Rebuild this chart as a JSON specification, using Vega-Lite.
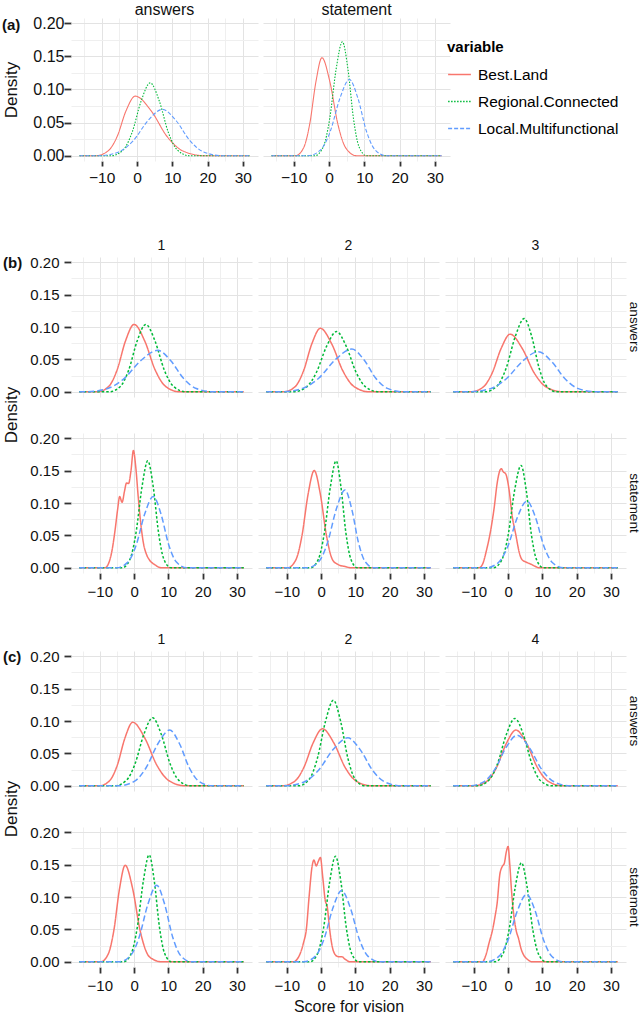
{
"$schema":"https://vega.github.io/schema/vega-lite/v6.json",
"padding":{"left":2,"top":2,"right":0,"bottom":0},
"background":"white",
"config":{"font":"Liberation Sans","view":{"stroke":null},"title":{"color":"#111"},
"header":{"labelColor":"#111","titleColor":"#111","labelFont":"Liberation Sans","titleFont":"Liberation Sans"},
"axis":{"labelFont":"Liberation Sans","titleFont":"Liberation Sans","labelColor":"#111","titleColor":"#111"}},
"datasets":{
"a":[
{"t":"answers","v":"B","x":-16.3,"y":0},{"t":"answers","v":"B","x":-11.6,"y":0},{"t":"answers","v":"B","x":-8.2,"y":0.0072},{"t":"answers","v":"B","x":-5.6,"y":0.0292},{"t":"answers","v":"B","x":-3.1,"y":0.0679},{"t":"answers","v":"B","x":-0.5,"y":0.09},{"t":"answers","v":"B","x":4,"y":0.0679},{"t":"answers","v":"B","x":8.5,"y":0.0292},{"t":"answers","v":"B","x":13,"y":0.0072},{"t":"answers","v":"B","x":19,"y":0},{"t":"answers","v":"B","x":31.9,"y":0},
{"t":"answers","v":"R","x":-16.3,"y":0},{"t":"answers","v":"R","x":-7.3,"y":0},{"t":"answers","v":"R","x":-3.9,"y":0.0088},{"t":"answers","v":"R","x":-1.35,"y":0.0357},{"t":"answers","v":"R","x":1.2,"y":0.083},{"t":"answers","v":"R","x":3.75,"y":0.11},{"t":"answers","v":"R","x":6.3,"y":0.083},{"t":"answers","v":"R","x":8.85,"y":0.0357},{"t":"answers","v":"R","x":11.4,"y":0.0088},{"t":"answers","v":"R","x":14.8,"y":0},{"t":"answers","v":"R","x":31.9,"y":0},
{"t":"answers","v":"L","x":-16.3,"y":0},{"t":"answers","v":"L","x":-10.7,"y":0},{"t":"answers","v":"L","x":-5.2,"y":0.0056},{"t":"answers","v":"L","x":-1.05,"y":0.0227},{"t":"answers","v":"L","x":3.1,"y":0.0528},{"t":"answers","v":"L","x":7.2,"y":0.07},{"t":"answers","v":"L","x":11.1,"y":0.0528},{"t":"answers","v":"L","x":15,"y":0.0227},{"t":"answers","v":"L","x":18.9,"y":0.0056},{"t":"answers","v":"L","x":24.1,"y":0},{"t":"answers","v":"L","x":31.9,"y":0},
{"t":"statement","v":"B","x":-16.3,"y":0},{"t":"statement","v":"B","x":-9.5,"y":0},{"t":"statement","v":"B","x":-7.2,"y":0.0118},{"t":"statement","v":"B","x":-5.45,"y":0.0481},{"t":"statement","v":"B","x":-3.7,"y":0.1117},{"t":"statement","v":"B","x":-2,"y":0.148},{"t":"statement","v":"B","x":0.25,"y":0.1117},{"t":"statement","v":"B","x":2.5,"y":0.0481},{"t":"statement","v":"B","x":4.75,"y":0.0118},{"t":"statement","v":"B","x":7.75,"y":0},{"t":"statement","v":"B","x":31.9,"y":0},
{"t":"statement","v":"R","x":-16.3,"y":0},{"t":"statement","v":"R","x":-4,"y":0},{"t":"statement","v":"R","x":-1.6,"y":0.0137},{"t":"statement","v":"R","x":0.2,"y":0.0558},{"t":"statement","v":"R","x":2,"y":0.1298},{"t":"statement","v":"R","x":3.8,"y":0.172},{"t":"statement","v":"R","x":5.4,"y":0.1298},{"t":"statement","v":"R","x":6.95,"y":0.0558},{"t":"statement","v":"R","x":8.5,"y":0.0137},{"t":"statement","v":"R","x":10.6,"y":0},{"t":"statement","v":"R","x":31.9,"y":0},
{"t":"statement","v":"L","x":-16.3,"y":0},{"t":"statement","v":"L","x":-5.9,"y":0},{"t":"statement","v":"L","x":-2.3,"y":0.0092},{"t":"statement","v":"L","x":0.4,"y":0.0373},{"t":"statement","v":"L","x":3.1,"y":0.0868},{"t":"statement","v":"L","x":5.8,"y":0.115},{"t":"statement","v":"L","x":8.2,"y":0.0868},{"t":"statement","v":"L","x":10.6,"y":0.0373},{"t":"statement","v":"L","x":13,"y":0.0092},{"t":"statement","v":"L","x":16.2,"y":0},{"t":"statement","v":"L","x":31.9,"y":0}
],
"b":[
{"t":"answers","c":"1","v":"B","x":-16,"y":0},{"t":"answers","c":"1","v":"B","x":-10.7,"y":0},{"t":"answers","c":"1","v":"B","x":-7.4,"y":0.0083},{"t":"answers","c":"1","v":"B","x":-4.95,"y":0.0338},{"t":"answers","c":"1","v":"B","x":-2.5,"y":0.0785},{"t":"answers","c":"1","v":"B","x":0,"y":0.104},{"t":"answers","c":"1","v":"B","x":3.1,"y":0.0785},{"t":"answers","c":"1","v":"B","x":6.15,"y":0.0338},{"t":"answers","c":"1","v":"B","x":9.2,"y":0.0083},{"t":"answers","c":"1","v":"B","x":13.3,"y":0},{"t":"answers","c":"1","v":"B","x":32,"y":0},
{"t":"answers","c":"1","v":"R","x":-16,"y":0},{"t":"answers","c":"1","v":"R","x":-7.3,"y":0},{"t":"answers","c":"1","v":"R","x":-4,"y":0.0083},{"t":"answers","c":"1","v":"R","x":-1.55,"y":0.0338},{"t":"answers","c":"1","v":"R","x":0.9,"y":0.0785},{"t":"answers","c":"1","v":"R","x":3.4,"y":0.104},{"t":"answers","c":"1","v":"R","x":6.1,"y":0.0785},{"t":"answers","c":"1","v":"R","x":8.8,"y":0.0338},{"t":"answers","c":"1","v":"R","x":11.5,"y":0.0083},{"t":"answers","c":"1","v":"R","x":15.1,"y":0},{"t":"answers","c":"1","v":"R","x":32,"y":0},
{"t":"answers","c":"1","v":"L","x":-16,"y":0},{"t":"answers","c":"1","v":"L","x":-14.2,"y":0},{"t":"answers","c":"1","v":"L","x":-7.7,"y":0.0051},{"t":"answers","c":"1","v":"L","x":-2.85,"y":0.0208},{"t":"answers","c":"1","v":"L","x":2,"y":0.0483},{"t":"answers","c":"1","v":"L","x":6.9,"y":0.064},{"t":"answers","c":"1","v":"L","x":10.65,"y":0.0483},{"t":"answers","c":"1","v":"L","x":14.4,"y":0.0208},{"t":"answers","c":"1","v":"L","x":18.15,"y":0.0051},{"t":"answers","c":"1","v":"L","x":23.15,"y":0},{"t":"answers","c":"1","v":"L","x":32,"y":0},
{"t":"answers","c":"2","v":"B","x":-16,"y":0},{"t":"answers","c":"2","v":"B","x":-10.9,"y":0},{"t":"answers","c":"2","v":"B","x":-7.6,"y":0.0078},{"t":"answers","c":"2","v":"B","x":-5.15,"y":0.0318},{"t":"answers","c":"2","v":"B","x":-2.7,"y":0.074},{"t":"answers","c":"2","v":"B","x":-0.2,"y":0.098},{"t":"answers","c":"2","v":"B","x":3.1,"y":0.074},{"t":"answers","c":"2","v":"B","x":6.4,"y":0.0318},{"t":"answers","c":"2","v":"B","x":9.7,"y":0.0078},{"t":"answers","c":"2","v":"B","x":14.1,"y":0},{"t":"answers","c":"2","v":"B","x":32,"y":0},
{"t":"answers","c":"2","v":"R","x":-16,"y":0},{"t":"answers","c":"2","v":"R","x":-8.2,"y":0},{"t":"answers","c":"2","v":"R","x":-4.3,"y":0.0074},{"t":"answers","c":"2","v":"R","x":-1.35,"y":0.0302},{"t":"answers","c":"2","v":"R","x":1.6,"y":0.0702},{"t":"answers","c":"2","v":"R","x":4.5,"y":0.093},{"t":"answers","c":"2","v":"R","x":7.35,"y":0.0702},{"t":"answers","c":"2","v":"R","x":10.2,"y":0.0302},{"t":"answers","c":"2","v":"R","x":13.05,"y":0.0074},{"t":"answers","c":"2","v":"R","x":16.85,"y":0},{"t":"answers","c":"2","v":"R","x":32,"y":0},
{"t":"answers","c":"2","v":"L","x":-16,"y":0},{"t":"answers","c":"2","v":"L","x":-11.8,"y":0},{"t":"answers","c":"2","v":"L","x":-5.4,"y":0.0053},{"t":"answers","c":"2","v":"L","x":-0.6,"y":0.0214},{"t":"answers","c":"2","v":"L","x":4.2,"y":0.0498},{"t":"answers","c":"2","v":"L","x":9,"y":0.066},{"t":"answers","c":"2","v":"L","x":12.45,"y":0.0498},{"t":"answers","c":"2","v":"L","x":15.9,"y":0.0214},{"t":"answers","c":"2","v":"L","x":19.35,"y":0.0053},{"t":"answers","c":"2","v":"L","x":23.95,"y":0},{"t":"answers","c":"2","v":"L","x":32,"y":0},
{"t":"answers","c":"3","v":"B","x":-16,"y":0},{"t":"answers","c":"3","v":"B","x":-10.8,"y":0},{"t":"answers","c":"3","v":"B","x":-7.3,"y":0.0071},{"t":"answers","c":"3","v":"B","x":-4.65,"y":0.0289},{"t":"answers","c":"3","v":"B","x":-2,"y":0.0672},{"t":"answers","c":"3","v":"B","x":0.6,"y":0.089},{"t":"answers","c":"3","v":"B","x":4.1,"y":0.0672},{"t":"answers","c":"3","v":"B","x":7.65,"y":0.0289},{"t":"answers","c":"3","v":"B","x":11.2,"y":0.0071},{"t":"answers","c":"3","v":"B","x":15.9,"y":0},{"t":"answers","c":"3","v":"B","x":32,"y":0},
{"t":"answers","c":"3","v":"R","x":-16,"y":0},{"t":"answers","c":"3","v":"R","x":-6.7,"y":0},{"t":"answers","c":"3","v":"R","x":-3.2,"y":0.009},{"t":"answers","c":"3","v":"R","x":-0.55,"y":0.0367},{"t":"answers","c":"3","v":"R","x":2.1,"y":0.0853},{"t":"answers","c":"3","v":"R","x":4.7,"y":0.113},{"t":"answers","c":"3","v":"R","x":6.9,"y":0.0853},{"t":"answers","c":"3","v":"R","x":9.05,"y":0.0367},{"t":"answers","c":"3","v":"R","x":11.2,"y":0.009},{"t":"answers","c":"3","v":"R","x":14.1,"y":0},{"t":"answers","c":"3","v":"R","x":32,"y":0},
{"t":"answers","c":"3","v":"L","x":-16,"y":0},{"t":"answers","c":"3","v":"L","x":-11.35,"y":0},{"t":"answers","c":"3","v":"L","x":-5.15,"y":0.0049},{"t":"answers","c":"3","v":"L","x":-0.5,"y":0.0201},{"t":"answers","c":"3","v":"L","x":4.15,"y":0.0468},{"t":"answers","c":"3","v":"L","x":8.8,"y":0.062},{"t":"answers","c":"3","v":"L","x":12.7,"y":0.0468},{"t":"answers","c":"3","v":"L","x":16.6,"y":0.0201},{"t":"answers","c":"3","v":"L","x":20.5,"y":0.0049},{"t":"answers","c":"3","v":"L","x":25.7,"y":0},{"t":"answers","c":"3","v":"L","x":32,"y":0},
{"t":"statement","c":"1","v":"B","x":-16,"y":0},{"t":"statement","c":"1","v":"B","x":-8.5,"y":0},{"t":"statement","c":"1","v":"B","x":-7.5,"y":0.006},{"t":"statement","c":"1","v":"B","x":-6.5,"y":0.025},{"t":"statement","c":"1","v":"B","x":-5.5,"y":0.06},{"t":"statement","c":"1","v":"B","x":-4.8,"y":0.09},{"t":"statement","c":"1","v":"B","x":-4.2,"y":0.11},{"t":"statement","c":"1","v":"B","x":-3.5,"y":0.101},{"t":"statement","c":"1","v":"B","x":-2.8,"y":0.118},{"t":"statement","c":"1","v":"B","x":-2.2,"y":0.131},{"t":"statement","c":"1","v":"B","x":-1.6,"y":0.13},{"t":"statement","c":"1","v":"B","x":-0.9,"y":0.15},{"t":"statement","c":"1","v":"B","x":-0.2,"y":0.181},{"t":"statement","c":"1","v":"B","x":0.5,"y":0.155},{"t":"statement","c":"1","v":"B","x":1.2,"y":0.11},{"t":"statement","c":"1","v":"B","x":2,"y":0.066},{"t":"statement","c":"1","v":"B","x":2.8,"y":0.036},{"t":"statement","c":"1","v":"B","x":3.6,"y":0.021},{"t":"statement","c":"1","v":"B","x":4.5,"y":0.012},{"t":"statement","c":"1","v":"B","x":6,"y":0.005},{"t":"statement","c":"1","v":"B","x":8,"y":0},{"t":"statement","c":"1","v":"B","x":32,"y":0},
{"t":"statement","c":"1","v":"R","x":-16,"y":0},{"t":"statement","c":"1","v":"R","x":-3.5,"y":0},{"t":"statement","c":"1","v":"R","x":-1.2,"y":0.0131},{"t":"statement","c":"1","v":"R","x":0.55,"y":0.0536},{"t":"statement","c":"1","v":"R","x":2.3,"y":0.1245},{"t":"statement","c":"1","v":"R","x":4,"y":0.165},{"t":"statement","c":"1","v":"R","x":5.6,"y":0.1245},{"t":"statement","c":"1","v":"R","x":7.15,"y":0.0536},{"t":"statement","c":"1","v":"R","x":8.7,"y":0.0131},{"t":"statement","c":"1","v":"R","x":10.8,"y":0},{"t":"statement","c":"1","v":"R","x":32,"y":0},
{"t":"statement","c":"1","v":"L","x":-16,"y":0},{"t":"statement","c":"1","v":"L","x":-5.1,"y":0},{"t":"statement","c":"1","v":"L","x":-1.8,"y":0.0088},{"t":"statement","c":"1","v":"L","x":0.65,"y":0.0357},{"t":"statement","c":"1","v":"L","x":3.1,"y":0.083},{"t":"statement","c":"1","v":"L","x":5.6,"y":0.11},{"t":"statement","c":"1","v":"L","x":7.85,"y":0.083},{"t":"statement","c":"1","v":"L","x":10.1,"y":0.0357},{"t":"statement","c":"1","v":"L","x":12.35,"y":0.0088},{"t":"statement","c":"1","v":"L","x":15.35,"y":0},{"t":"statement","c":"1","v":"L","x":32,"y":0},
{"t":"statement","c":"2","v":"B","x":-16,"y":0},{"t":"statement","c":"2","v":"B","x":-9.8,"y":0},{"t":"statement","c":"2","v":"B","x":-7.4,"y":0.0119},{"t":"statement","c":"2","v":"B","x":-5.6,"y":0.0487},{"t":"statement","c":"2","v":"B","x":-3.8,"y":0.1132},{"t":"statement","c":"2","v":"B","x":-2,"y":0.15},{"t":"statement","c":"2","v":"B","x":-0.2,"y":0.1132},{"t":"statement","c":"2","v":"B","x":1.6,"y":0.0487},{"t":"statement","c":"2","v":"B","x":3.4,"y":0.0119},{"t":"statement","c":"2","v":"B","x":5,"y":0.005},{"t":"statement","c":"2","v":"B","x":7,"y":0.002},{"t":"statement","c":"2","v":"B","x":9,"y":0},{"t":"statement","c":"2","v":"B","x":32,"y":0},
{"t":"statement","c":"2","v":"R","x":-16,"y":0},{"t":"statement","c":"2","v":"R","x":-3.1,"y":0},{"t":"statement","c":"2","v":"R","x":-0.8,"y":0.0131},{"t":"statement","c":"2","v":"R","x":0.95,"y":0.0536},{"t":"statement","c":"2","v":"R","x":2.7,"y":0.1245},{"t":"statement","c":"2","v":"R","x":4.4,"y":0.165},{"t":"statement","c":"2","v":"R","x":5.8,"y":0.1245},{"t":"statement","c":"2","v":"R","x":7.25,"y":0.0536},{"t":"statement","c":"2","v":"R","x":8.7,"y":0.0131},{"t":"statement","c":"2","v":"R","x":10.6,"y":0},{"t":"statement","c":"2","v":"R","x":32,"y":0},
{"t":"statement","c":"2","v":"L","x":-16,"y":0},{"t":"statement","c":"2","v":"L","x":-4.05,"y":0},{"t":"statement","c":"2","v":"L","x":-0.65,"y":0.0096},{"t":"statement","c":"2","v":"L","x":1.9,"y":0.039},{"t":"statement","c":"2","v":"L","x":4.45,"y":0.0906},{"t":"statement","c":"2","v":"L","x":7,"y":0.12},{"t":"statement","c":"2","v":"L","x":8.95,"y":0.0906},{"t":"statement","c":"2","v":"L","x":10.9,"y":0.039},{"t":"statement","c":"2","v":"L","x":12.85,"y":0.0096},{"t":"statement","c":"2","v":"L","x":15.45,"y":0},{"t":"statement","c":"2","v":"L","x":32,"y":0},
{"t":"statement","c":"3","v":"B","x":-16,"y":0},{"t":"statement","c":"3","v":"B","x":-8.5,"y":0},{"t":"statement","c":"3","v":"B","x":-7.5,"y":0.005},{"t":"statement","c":"3","v":"B","x":-6.3,"y":0.027},{"t":"statement","c":"3","v":"B","x":-5,"y":0.06},{"t":"statement","c":"3","v":"B","x":-4,"y":0.095},{"t":"statement","c":"3","v":"B","x":-3.2,"y":0.13},{"t":"statement","c":"3","v":"B","x":-2.4,"y":0.15},{"t":"statement","c":"3","v":"B","x":-2,"y":0.153},{"t":"statement","c":"3","v":"B","x":-1.4,"y":0.148},{"t":"statement","c":"3","v":"B","x":-0.7,"y":0.145},{"t":"statement","c":"3","v":"B","x":0.3,"y":0.12},{"t":"statement","c":"3","v":"B","x":1.2,"y":0.08},{"t":"statement","c":"3","v":"B","x":2.3,"y":0.05},{"t":"statement","c":"3","v":"B","x":3.2,"y":0.025},{"t":"statement","c":"3","v":"B","x":4,"y":0.013},{"t":"statement","c":"3","v":"B","x":5.2,"y":0.009},{"t":"statement","c":"3","v":"B","x":6.5,"y":0.006},{"t":"statement","c":"3","v":"B","x":8,"y":0.002},{"t":"statement","c":"3","v":"B","x":9,"y":0},{"t":"statement","c":"3","v":"B","x":32,"y":0},
{"t":"statement","c":"3","v":"R","x":-16,"y":0},{"t":"statement","c":"3","v":"R","x":-4.3,"y":0},{"t":"statement","c":"3","v":"R","x":-1.8,"y":0.0126},{"t":"statement","c":"3","v":"R","x":0.05,"y":0.0513},{"t":"statement","c":"3","v":"R","x":1.9,"y":0.1193},{"t":"statement","c":"3","v":"R","x":3.8,"y":0.158},{"t":"statement","c":"3","v":"R","x":5.3,"y":0.1193},{"t":"statement","c":"3","v":"R","x":6.8,"y":0.0513},{"t":"statement","c":"3","v":"R","x":8.3,"y":0.0126},{"t":"statement","c":"3","v":"R","x":10.3,"y":0},{"t":"statement","c":"3","v":"R","x":32,"y":0},
{"t":"statement","c":"3","v":"L","x":-16,"y":0},{"t":"statement","c":"3","v":"L","x":-6.5,"y":0},{"t":"statement","c":"3","v":"L","x":-2.8,"y":0.0082},{"t":"statement","c":"3","v":"L","x":-0.05,"y":0.0334},{"t":"statement","c":"3","v":"L","x":2.7,"y":0.0777},{"t":"statement","c":"3","v":"L","x":5.5,"y":0.103},{"t":"statement","c":"3","v":"L","x":8,"y":0.0777},{"t":"statement","c":"3","v":"L","x":10.45,"y":0.0334},{"t":"statement","c":"3","v":"L","x":12.9,"y":0.0082},{"t":"statement","c":"3","v":"L","x":16.2,"y":0},{"t":"statement","c":"3","v":"L","x":32,"y":0}
],
"c":[
{"t":"answers","c":"1","v":"B","x":-16,"y":0},{"t":"answers","c":"1","v":"B","x":-10.15,"y":0},{"t":"answers","c":"1","v":"B","x":-7.15,"y":0.0078},{"t":"answers","c":"1","v":"B","x":-4.9,"y":0.0318},{"t":"answers","c":"1","v":"B","x":-2.65,"y":0.074},{"t":"answers","c":"1","v":"B","x":-0.4,"y":0.098},{"t":"answers","c":"1","v":"B","x":3.1,"y":0.074},{"t":"answers","c":"1","v":"B","x":6.65,"y":0.0318},{"t":"answers","c":"1","v":"B","x":10.2,"y":0.0078},{"t":"answers","c":"1","v":"B","x":14.9,"y":0},{"t":"answers","c":"1","v":"B","x":32,"y":0},
{"t":"answers","c":"1","v":"R","x":-16,"y":0},{"t":"answers","c":"1","v":"R","x":-5.65,"y":0},{"t":"answers","c":"1","v":"R","x":-2.25,"y":0.0084},{"t":"answers","c":"1","v":"R","x":0.3,"y":0.0341},{"t":"answers","c":"1","v":"R","x":2.85,"y":0.0793},{"t":"answers","c":"1","v":"R","x":5.4,"y":0.105},{"t":"answers","c":"1","v":"R","x":7.95,"y":0.0793},{"t":"answers","c":"1","v":"R","x":10.5,"y":0.0341},{"t":"answers","c":"1","v":"R","x":13.05,"y":0.0084},{"t":"answers","c":"1","v":"R","x":16.45,"y":0},{"t":"answers","c":"1","v":"R","x":32,"y":0},
{"t":"answers","c":"1","v":"L","x":-16,"y":0},{"t":"answers","c":"1","v":"L","x":-4.55,"y":0},{"t":"answers","c":"1","v":"L","x":0.05,"y":0.0068},{"t":"answers","c":"1","v":"L","x":3.5,"y":0.0279},{"t":"answers","c":"1","v":"L","x":6.95,"y":0.0649},{"t":"answers","c":"1","v":"L","x":10.4,"y":0.086},{"t":"answers","c":"1","v":"L","x":13.25,"y":0.0649},{"t":"answers","c":"1","v":"L","x":16.1,"y":0.0279},{"t":"answers","c":"1","v":"L","x":18.95,"y":0.0068},{"t":"answers","c":"1","v":"L","x":22.75,"y":0},{"t":"answers","c":"1","v":"L","x":32,"y":0},
{"t":"answers","c":"2","v":"B","x":-16,"y":0},{"t":"answers","c":"2","v":"B","x":-11.3,"y":0},{"t":"answers","c":"2","v":"B","x":-7.7,"y":0.007},{"t":"answers","c":"2","v":"B","x":-5,"y":0.0286},{"t":"answers","c":"2","v":"B","x":-2.3,"y":0.0664},{"t":"answers","c":"2","v":"B","x":0.4,"y":0.088},{"t":"answers","c":"2","v":"B","x":3.7,"y":0.0664},{"t":"answers","c":"2","v":"B","x":7,"y":0.0286},{"t":"answers","c":"2","v":"B","x":10.3,"y":0.007},{"t":"answers","c":"2","v":"B","x":14.7,"y":0},{"t":"answers","c":"2","v":"B","x":32,"y":0},
{"t":"answers","c":"2","v":"R","x":-16,"y":0},{"t":"answers","c":"2","v":"R","x":-6.5,"y":0},{"t":"answers","c":"2","v":"R","x":-3.4,"y":0.0105},{"t":"answers","c":"2","v":"R","x":-1.05,"y":0.0429},{"t":"answers","c":"2","v":"R","x":1.3,"y":0.0996},{"t":"answers","c":"2","v":"R","x":3.6,"y":0.132},{"t":"answers","c":"2","v":"R","x":5.7,"y":0.0996},{"t":"answers","c":"2","v":"R","x":7.8,"y":0.0429},{"t":"answers","c":"2","v":"R","x":9.9,"y":0.0105},{"t":"answers","c":"2","v":"R","x":12.7,"y":0},{"t":"answers","c":"2","v":"R","x":32,"y":0},
{"t":"answers","c":"2","v":"L","x":-16,"y":0},{"t":"answers","c":"2","v":"L","x":-10.7,"y":0},{"t":"answers","c":"2","v":"L","x":-5,"y":0.0059},{"t":"answers","c":"2","v":"L","x":-0.75,"y":0.024},{"t":"answers","c":"2","v":"L","x":3.5,"y":0.0559},{"t":"answers","c":"2","v":"L","x":7.8,"y":0.074},{"t":"answers","c":"2","v":"L","x":11.4,"y":0.0559},{"t":"answers","c":"2","v":"L","x":15,"y":0.024},{"t":"answers","c":"2","v":"L","x":18.6,"y":0.0059},{"t":"answers","c":"2","v":"L","x":23.4,"y":0},{"t":"answers","c":"2","v":"L","x":32,"y":0},
{"t":"answers","c":"4","v":"B","x":-16,"y":0},{"t":"answers","c":"4","v":"B","x":-10.05,"y":0},{"t":"answers","c":"4","v":"B","x":-6.25,"y":0.0068},{"t":"answers","c":"4","v":"B","x":-3.4,"y":0.0279},{"t":"answers","c":"4","v":"B","x":-0.55,"y":0.0649},{"t":"answers","c":"4","v":"B","x":2.3,"y":0.086},{"t":"answers","c":"4","v":"B","x":5.45,"y":0.0649},{"t":"answers","c":"4","v":"B","x":8.6,"y":0.0279},{"t":"answers","c":"4","v":"B","x":11.75,"y":0.0068},{"t":"answers","c":"4","v":"B","x":15.95,"y":0},{"t":"answers","c":"4","v":"B","x":32,"y":0},
{"t":"answers","c":"4","v":"R","x":-16,"y":0},{"t":"answers","c":"4","v":"R","x":-9.05,"y":0},{"t":"answers","c":"4","v":"R","x":-5.65,"y":0.0083},{"t":"answers","c":"4","v":"R","x":-3.1,"y":0.0338},{"t":"answers","c":"4","v":"R","x":-0.55,"y":0.0785},{"t":"answers","c":"4","v":"R","x":2,"y":0.104},{"t":"answers","c":"4","v":"R","x":4.5,"y":0.0785},{"t":"answers","c":"4","v":"R","x":6.95,"y":0.0338},{"t":"answers","c":"4","v":"R","x":9.4,"y":0.0083},{"t":"answers","c":"4","v":"R","x":12.7,"y":0},{"t":"answers","c":"4","v":"R","x":32,"y":0},
{"t":"answers","c":"4","v":"L","x":-16,"y":0},{"t":"answers","c":"4","v":"L","x":-11.4,"y":0},{"t":"answers","c":"4","v":"L","x":-7.1,"y":0.0062},{"t":"answers","c":"4","v":"L","x":-3.85,"y":0.0253},{"t":"answers","c":"4","v":"L","x":-0.6,"y":0.0589},{"t":"answers","c":"4","v":"L","x":2.6,"y":0.078},{"t":"answers","c":"4","v":"L","x":6.2,"y":0.0589},{"t":"answers","c":"4","v":"L","x":9.8,"y":0.0253},{"t":"answers","c":"4","v":"L","x":13.4,"y":0.0062},{"t":"answers","c":"4","v":"L","x":18.2,"y":0},{"t":"answers","c":"4","v":"L","x":32,"y":0},
{"t":"statement","c":"1","v":"B","x":-16,"y":0},{"t":"statement","c":"1","v":"B","x":-9.75,"y":0},{"t":"statement","c":"1","v":"B","x":-7.55,"y":0.0119},{"t":"statement","c":"1","v":"B","x":-5.9,"y":0.0484},{"t":"statement","c":"1","v":"B","x":-4.25,"y":0.1125},{"t":"statement","c":"1","v":"B","x":-2.6,"y":0.149},{"t":"statement","c":"1","v":"B","x":-0.4,"y":0.1125},{"t":"statement","c":"1","v":"B","x":1.75,"y":0.0484},{"t":"statement","c":"1","v":"B","x":3.9,"y":0.0119},{"t":"statement","c":"1","v":"B","x":5.5,"y":0.004},{"t":"statement","c":"1","v":"B","x":8,"y":0},{"t":"statement","c":"1","v":"B","x":32,"y":0},
{"t":"statement","c":"1","v":"R","x":-16,"y":0},{"t":"statement","c":"1","v":"R","x":-3.1,"y":0},{"t":"statement","c":"1","v":"R","x":-0.8,"y":0.0131},{"t":"statement","c":"1","v":"R","x":0.95,"y":0.0536},{"t":"statement","c":"1","v":"R","x":2.7,"y":0.1245},{"t":"statement","c":"1","v":"R","x":4.4,"y":0.165},{"t":"statement","c":"1","v":"R","x":5.9,"y":0.1245},{"t":"statement","c":"1","v":"R","x":7.4,"y":0.0536},{"t":"statement","c":"1","v":"R","x":8.9,"y":0.0131},{"t":"statement","c":"1","v":"R","x":10.9,"y":0},{"t":"statement","c":"1","v":"R","x":32,"y":0},
{"t":"statement","c":"1","v":"L","x":-16,"y":0},{"t":"statement","c":"1","v":"L","x":-4.45,"y":0},{"t":"statement","c":"1","v":"L","x":-1.05,"y":0.0094},{"t":"statement","c":"1","v":"L","x":1.5,"y":0.0383},{"t":"statement","c":"1","v":"L","x":4.05,"y":0.0891},{"t":"statement","c":"1","v":"L","x":6.6,"y":0.118},{"t":"statement","c":"1","v":"L","x":8.9,"y":0.0891},{"t":"statement","c":"1","v":"L","x":11.25,"y":0.0383},{"t":"statement","c":"1","v":"L","x":13.6,"y":0.0094},{"t":"statement","c":"1","v":"L","x":16.7,"y":0},{"t":"statement","c":"1","v":"L","x":32,"y":0},
{"t":"statement","c":"2","v":"B","x":-16,"y":0},{"t":"statement","c":"2","v":"B","x":-8,"y":0},{"t":"statement","c":"2","v":"B","x":-7,"y":0.004},{"t":"statement","c":"2","v":"B","x":-6,"y":0.014},{"t":"statement","c":"2","v":"B","x":-5.1,"y":0.03},{"t":"statement","c":"2","v":"B","x":-4.3,"y":0.05},{"t":"statement","c":"2","v":"B","x":-3.5,"y":0.1},{"t":"statement","c":"2","v":"B","x":-2.6,"y":0.148},{"t":"statement","c":"2","v":"B","x":-2.1,"y":0.157},{"t":"statement","c":"2","v":"B","x":-1.4,"y":0.148},{"t":"statement","c":"2","v":"B","x":-0.8,"y":0.155},{"t":"statement","c":"2","v":"B","x":-0.2,"y":0.161},{"t":"statement","c":"2","v":"B","x":0.5,"y":0.13},{"t":"statement","c":"2","v":"B","x":1.2,"y":0.095},{"t":"statement","c":"2","v":"B","x":1.8,"y":0.085},{"t":"statement","c":"2","v":"B","x":2.5,"y":0.05},{"t":"statement","c":"2","v":"B","x":3.2,"y":0.025},{"t":"statement","c":"2","v":"B","x":4,"y":0.012},{"t":"statement","c":"2","v":"B","x":5,"y":0.008},{"t":"statement","c":"2","v":"B","x":6,"y":0.008},{"t":"statement","c":"2","v":"B","x":7,"y":0.004},{"t":"statement","c":"2","v":"B","x":8.5,"y":0},{"t":"statement","c":"2","v":"B","x":32,"y":0},
{"t":"statement","c":"2","v":"R","x":-16,"y":0},{"t":"statement","c":"2","v":"R","x":-3.3,"y":0},{"t":"statement","c":"2","v":"R","x":-1,"y":0.013},{"t":"statement","c":"2","v":"R","x":0.75,"y":0.0529},{"t":"statement","c":"2","v":"R","x":2.5,"y":0.123},{"t":"statement","c":"2","v":"R","x":4.2,"y":0.163},{"t":"statement","c":"2","v":"R","x":5.8,"y":0.123},{"t":"statement","c":"2","v":"R","x":7.35,"y":0.0529},{"t":"statement","c":"2","v":"R","x":8.9,"y":0.013},{"t":"statement","c":"2","v":"R","x":11,"y":0},{"t":"statement","c":"2","v":"R","x":32,"y":0},
{"t":"statement","c":"2","v":"L","x":-16,"y":0},{"t":"statement","c":"2","v":"L","x":-5.05,"y":0},{"t":"statement","c":"2","v":"L","x":-1.65,"y":0.0088},{"t":"statement","c":"2","v":"L","x":0.9,"y":0.0357},{"t":"statement","c":"2","v":"L","x":3.45,"y":0.083},{"t":"statement","c":"2","v":"L","x":6,"y":0.11},{"t":"statement","c":"2","v":"L","x":8.55,"y":0.083},{"t":"statement","c":"2","v":"L","x":11.1,"y":0.0357},{"t":"statement","c":"2","v":"L","x":13.65,"y":0.0088},{"t":"statement","c":"2","v":"L","x":17.05,"y":0},{"t":"statement","c":"2","v":"L","x":32,"y":0},
{"t":"statement","c":"4","v":"B","x":-16,"y":0},{"t":"statement","c":"4","v":"B","x":-7.5,"y":0},{"t":"statement","c":"4","v":"B","x":-6.5,"y":0.01},{"t":"statement","c":"4","v":"B","x":-5.5,"y":0.03},{"t":"statement","c":"4","v":"B","x":-4.5,"y":0.05},{"t":"statement","c":"4","v":"B","x":-3.8,"y":0.07},{"t":"statement","c":"4","v":"B","x":-3.2,"y":0.09},{"t":"statement","c":"4","v":"B","x":-2.4,"y":0.135},{"t":"statement","c":"4","v":"B","x":-1.7,"y":0.147},{"t":"statement","c":"4","v":"B","x":-1.1,"y":0.152},{"t":"statement","c":"4","v":"B","x":-0.5,"y":0.17},{"t":"statement","c":"4","v":"B","x":0,"y":0.178},{"t":"statement","c":"4","v":"B","x":0.5,"y":0.15},{"t":"statement","c":"4","v":"B","x":1,"y":0.11},{"t":"statement","c":"4","v":"B","x":1.6,"y":0.075},{"t":"statement","c":"4","v":"B","x":2.3,"y":0.05},{"t":"statement","c":"4","v":"B","x":3.1,"y":0.035},{"t":"statement","c":"4","v":"B","x":3.8,"y":0.02},{"t":"statement","c":"4","v":"B","x":4.6,"y":0.01},{"t":"statement","c":"4","v":"B","x":5.6,"y":0.004},{"t":"statement","c":"4","v":"B","x":7,"y":0},{"t":"statement","c":"4","v":"B","x":32,"y":0},
{"t":"statement","c":"4","v":"R","x":-16,"y":0},{"t":"statement","c":"4","v":"R","x":-3.9,"y":0},{"t":"statement","c":"4","v":"R","x":-1.5,"y":0.0122},{"t":"statement","c":"4","v":"R","x":0.3,"y":0.0497},{"t":"statement","c":"4","v":"R","x":2.1,"y":0.1155},{"t":"statement","c":"4","v":"R","x":3.9,"y":0.153},{"t":"statement","c":"4","v":"R","x":5.55,"y":0.1155},{"t":"statement","c":"4","v":"R","x":7.2,"y":0.0497},{"t":"statement","c":"4","v":"R","x":8.85,"y":0.0122},{"t":"statement","c":"4","v":"R","x":11.05,"y":0},{"t":"statement","c":"4","v":"R","x":32,"y":0},
{"t":"statement","c":"4","v":"L","x":-16,"y":0},{"t":"statement","c":"4","v":"L","x":-6.3,"y":0},{"t":"statement","c":"4","v":"L","x":-2.7,"y":0.0083},{"t":"statement","c":"4","v":"L","x":0,"y":0.0338},{"t":"statement","c":"4","v":"L","x":2.7,"y":0.0785},{"t":"statement","c":"4","v":"L","x":5.4,"y":0.104},{"t":"statement","c":"4","v":"L","x":7.9,"y":0.0785},{"t":"statement","c":"4","v":"L","x":10.35,"y":0.0338},{"t":"statement","c":"4","v":"L","x":12.8,"y":0.0083},{"t":"statement","c":"4","v":"L","x":16.1,"y":0},{"t":"statement","c":"4","v":"L","x":32,"y":0}
]
},
"spacing":53,
"resolve":{"scale":{"color":"independent","strokeDash":"independent"},"legend":{"color":"independent","strokeDash":"independent"}},
"vconcat":[
{
"data":{"name":"a"},
"title":{"text":"(a)","anchor":"start","frame":"bounds","fontSize":15,"fontWeight":"bold","baseline":"middle","offset":0,"dy":38},
"spacing":5,
"facet":{"column":{"field":"t","type":"nominal","title":null,"header":{"labelFontSize":16,"labelPadding":0}}},
"spec":{
"width":187,"height":143,
"mark":{"type":"line","interpolate":"monotone","strokeWidth":1.1},
"encoding":{
"x":{"field":"x","type":"quantitative","scale":{"domain":[-18.7,34.3],"nice":false,"zero":false},
"axis":{"values":[-15,-10,-5,0,5,10,15,20,25,30],"labelExpr":"datum.value % 10 === 0 ? datum.label : ''","labelOverlap":false,"labelFlush":false,"domain":false,"grid":true,
"gridColor":{"condition":{"test":"datum.value % 10 === 0","value":"#e3e3e3"},"value":"#efefef"},
"tickOpacity":{"condition":{"test":"datum.value % 10 === 0","value":1},"value":0},
"tickSize":5,"tickWidth":1.8,"tickColor":"#333","labelFontSize":15.5,"labelPadding":4,"title":null}},
"y":{"field":"y","type":"quantitative","scale":{"domain":[-0.008,0.208],"nice":false,"zero":false},
"axis":{"values":[0,0.025,0.05,0.075,0.1,0.125,0.15,0.175,0.2],"format":".2f","labelExpr":"round(datum.value*1000) % 50 === 0 ? datum.label : ''","labelOverlap":false,"labelFlush":false,"domain":false,"grid":true,
"gridColor":{"condition":{"test":"round(datum.value*1000) % 50 === 0","value":"#e3e3e3"},"value":"#efefef"},
"tickOpacity":{"condition":{"test":"round(datum.value*1000) % 50 === 0","value":1},"value":0},
"tickSize":7,"tickWidth":1.8,"tickColor":"#333","labelFontSize":16,"labelPadding":0,
"title":"Density","titleFontSize":17,"titleFontWeight":"normal","titleX":-51,"titleY":71.5,"titleAngle":270,"titleAlign":"center","titleBaseline":"bottom"}},
"color":{"field":"v","type":"nominal","scale":{"domain":["B","R","L"],"range":["#F8766D","#00BA38","#619CFF"]},
"legend":{"title":"variable","orient":"right","offset":-25,"padding":22,"titleFontSize":15,"titleFontWeight":"bold","labelFontSize":15.5,"symbolType":"stroke","symbolSize":520,"symbolStrokeWidth":1.3,"rowPadding":6,"titlePadding":7,"labelOffset":6,
"labelExpr":"datum.label == 'B' ? 'Best.Land' : datum.label == 'R' ? 'Regional.Connected' : 'Local.Multifunctional'"}},
"strokeDash":{"field":"v","type":"nominal","scale":{"domain":["B","R","L"],"range":[[1,0],[1.5,1.5],[4,2]]},
"legend":{"title":"variable","orient":"right","offset":-25,"padding":22,"titleFontSize":15,"titleFontWeight":"bold","labelFontSize":15.5,"symbolType":"stroke","symbolSize":520,"symbolStrokeWidth":1.3,"rowPadding":6,"titlePadding":7,"labelOffset":6,
"labelExpr":"datum.label == 'B' ? 'Best.Land' : datum.label == 'R' ? 'Regional.Connected' : 'Local.Multifunctional'"}}
}
}
},
{
"spacing":34,
"vconcat":[
{
"data":{"name":"b"},
"title":{"text":"(b)","anchor":"start","frame":"bounds","fontSize":15,"fontWeight":"bold","baseline":"middle","offset":0,"dy":39},
"spacing":{"row":36,"column":6},
"facet":{
"row":{"field":"t","type":"nominal","title":"Density","header":{"labelOrient":"right","labelAngle":90,"labelFontSize":13.5,"labelPadding":1,"titleOrient":"left","titleFontSize":17,"titleFontWeight":"normal","titlePadding":-2}},
"column":{"field":"c","type":"nominal","title":null,"header":{"labelFontSize":14,"labelPadding":4}}},
"spec":{
"width":181,"height":140,
"mark":{"type":"line","interpolate":"monotone","strokeWidth":1.5},
"encoding":{
"x":{"field":"x","type":"quantitative","scale":{"domain":[-18.4,34.4],"nice":false,"zero":false},
"axis":{"values":[-15,-10,-5,0,5,10,15,20,25,30],"labelExpr":"datum.value % 10 === 0 ? datum.label : ''","labelOverlap":false,"labelFlush":false,"domain":false,"grid":true,
"gridColor":{"condition":{"test":"datum.value % 10 === 0","value":"#e3e3e3"},"value":"#efefef"},
"tickOpacity":{"condition":{"test":"datum.value % 10 === 0","value":1},"value":0},
"tickSize":6,"tickWidth":1.8,"tickColor":"#333","labelFontSize":15,"labelPadding":5,"title":null}},
"y":{"field":"y","type":"quantitative","scale":{"domain":[-0.008,0.208],"nice":false,"zero":false},
"axis":{"values":[0,0.025,0.05,0.075,0.1,0.125,0.15,0.175,0.2],"format":".2f","labelExpr":"round(datum.value*1000) % 50 === 0 ? datum.label : ''","labelOverlap":false,"labelFlush":false,"domain":false,"grid":true,
"gridColor":{"condition":{"test":"round(datum.value*1000) % 50 === 0","value":"#e3e3e3"},"value":"#efefef"},
"tickOpacity":{"condition":{"test":"round(datum.value*1000) % 50 === 0","value":1},"value":0},
"tickSize":7,"tickWidth":1.8,"tickColor":"#333","labelFontSize":15,"labelPadding":5,"title":null}},
"color":{"field":"v","type":"nominal","scale":{"domain":["B","R","L"],"range":["#F8766D","#00BA38","#619CFF"]},"legend":null},
"strokeDash":{"field":"v","type":"nominal","scale":{"domain":["B","R","L"],"range":[[1,0],[2.5,2],[6,3]]},"legend":null}
}
}
},
{
"data":{"name":"c"},
"title":{"text":"(c)","anchor":"start","frame":"bounds","fontSize":15,"fontWeight":"bold","baseline":"middle","offset":0,"dy":39},
"spacing":{"row":36,"column":6},
"facet":{
"row":{"field":"t","type":"nominal","title":"Density","header":{"labelOrient":"right","labelAngle":90,"labelFontSize":13.5,"labelPadding":1,"titleOrient":"left","titleFontSize":17,"titleFontWeight":"normal","titlePadding":-2}},
"column":{"field":"c","type":"nominal","title":"Score for vision","header":{"labelOrient":"top","labelFontSize":14,"labelPadding":4,"titleOrient":"bottom","titleFontSize":16,"titleFontWeight":"normal","titlePadding":-4}}},
"spec":{
"width":181,"height":140,
"mark":{"type":"line","interpolate":"monotone","strokeWidth":1.5},
"encoding":{
"x":{"field":"x","type":"quantitative","scale":{"domain":[-18.4,34.4],"nice":false,"zero":false},
"axis":{"values":[-15,-10,-5,0,5,10,15,20,25,30],"labelExpr":"datum.value % 10 === 0 ? datum.label : ''","labelOverlap":false,"labelFlush":false,"domain":false,"grid":true,
"gridColor":{"condition":{"test":"datum.value % 10 === 0","value":"#e3e3e3"},"value":"#efefef"},
"tickOpacity":{"condition":{"test":"datum.value % 10 === 0","value":1},"value":0},
"tickSize":6,"tickWidth":1.8,"tickColor":"#333","labelFontSize":15,"labelPadding":5,"title":null}},
"y":{"field":"y","type":"quantitative","scale":{"domain":[-0.008,0.208],"nice":false,"zero":false},
"axis":{"values":[0,0.025,0.05,0.075,0.1,0.125,0.15,0.175,0.2],"format":".2f","labelExpr":"round(datum.value*1000) % 50 === 0 ? datum.label : ''","labelOverlap":false,"labelFlush":false,"domain":false,"grid":true,
"gridColor":{"condition":{"test":"round(datum.value*1000) % 50 === 0","value":"#e3e3e3"},"value":"#efefef"},
"tickOpacity":{"condition":{"test":"round(datum.value*1000) % 50 === 0","value":1},"value":0},
"tickSize":7,"tickWidth":1.8,"tickColor":"#333","labelFontSize":15,"labelPadding":5,"title":null}},
"color":{"field":"v","type":"nominal","scale":{"domain":["B","R","L"],"range":["#F8766D","#00BA38","#619CFF"]},"legend":null},
"strokeDash":{"field":"v","type":"nominal","scale":{"domain":["B","R","L"],"range":[[1,0],[2.5,2],[6,3]]},"legend":null}
}
}
}
]
}
]
}
